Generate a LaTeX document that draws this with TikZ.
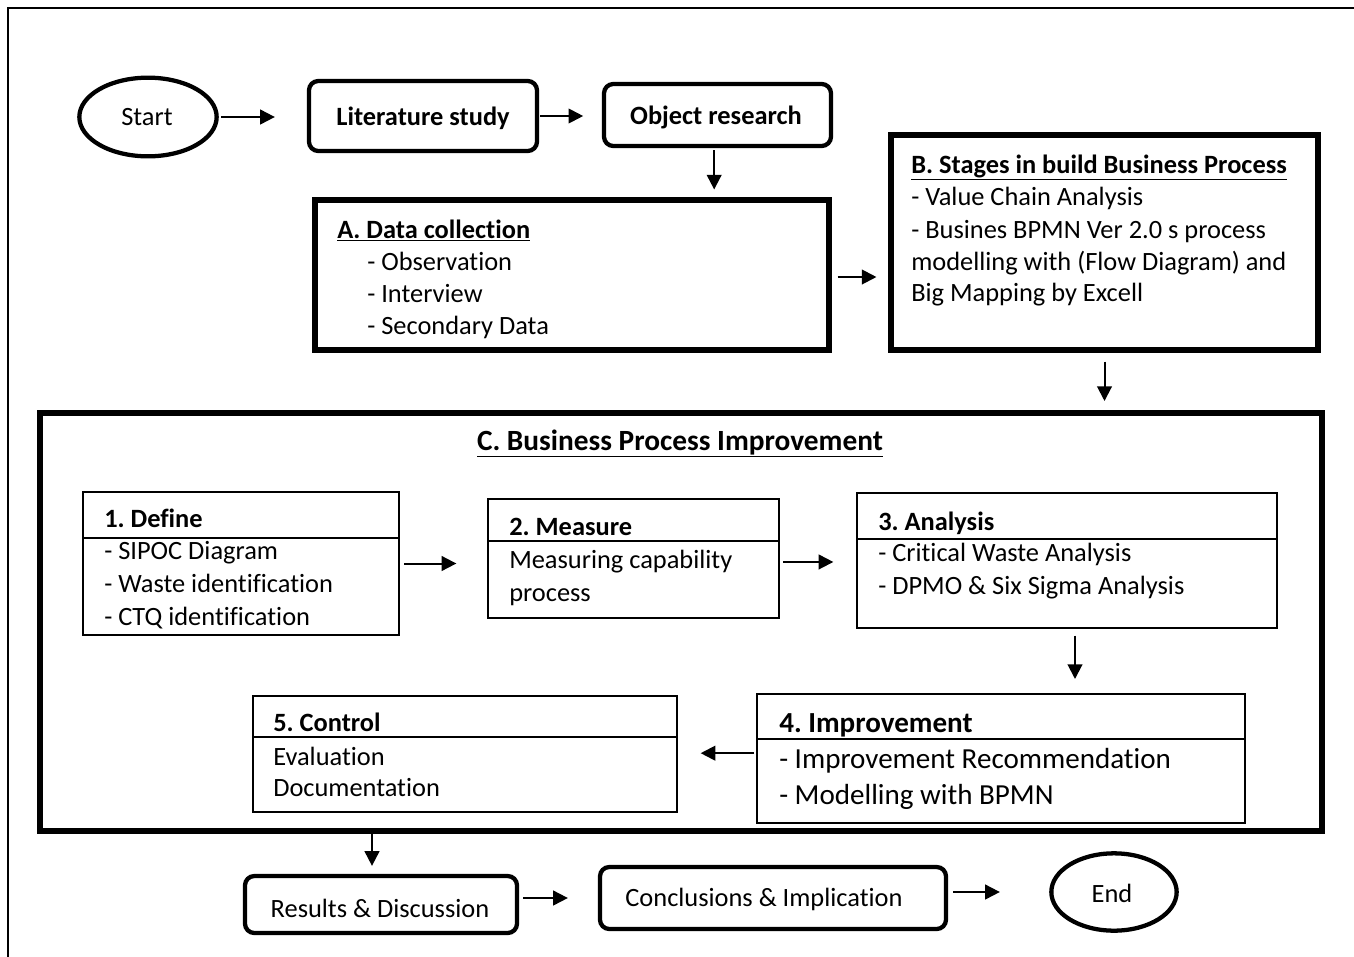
\documentclass[tikz,border=0pt]{standalone}
\usepackage{fontspec}
\setmainfont{Carlito}[RawFeature={-liga;-clig}]
\usetikzlibrary{shapes.geometric,fit,arrows.meta}
\frenchspacing
\begin{document}
\frenchspacing
\begin{tikzpicture}[x=0.75pt,y=-0.75pt,
  every node/.style={font=\fontsize{19.8}{24}\selectfont},
  big/.style={font=\fontsize{21.8}{26}\selectfont},
  rbox/.style={draw,line width=3.2pt,rounded corners=7pt,inner sep=0pt},
  tbox/.style={draw,line width=3.8pt,inner sep=0pt},
  cbox/.style={draw,line width=4.5pt,inner sep=0pt},
  sbox/.style={draw,line width=1.5pt,inner sep=0pt},
  oval/.style={draw,ellipse,line width=3.2pt,inner sep=0pt},
  txt/.style={anchor=base west,inner sep=0pt},
  ctxt/.style={anchor=base,inner sep=0pt},
  divider/.style={line width=1.5pt},
  arr/.style={-{Triangle[length=11pt,width=11pt]},line width=1.5pt},
  ]
\useasboundingbox (0,0) rectangle (1354,957);
\fill[white] (0,0) rectangle (1354,957);
% outer frame (only top and left visible)
\draw[line width=1.5pt] (1360,8) -- (8,8) -- (8,965);

% top row
\node[oval,minimum width=103pt,minimum height=59pt] (start) at (148,117) {};
\node[ctxt] (starttxt) at (147,125) {Start};
\node[rbox,fit={(309,81) (537,151)}] (lit) {};
\node[ctxt] (littxt) at (423,125) {\textbf{Literature study}};
\node[rbox,fit={(604,84) (831,146)}] (obj) {};
\node[ctxt] (objtxt) at (716,124) {\textbf{Object research}};

% A
\node[tbox,fit={(315,200) (829,350)}] (A) {};
\node[txt] (Atitle) at (337,238) {\underline{\textbf{A. Data collection}}};
\node[txt] (A1) at (367,270) {- Observation};
\node[txt] (A2) at (367,302) {- Interview};
\node[txt] (A3) at (367,334) {- Secondary Data};

% B
\node[tbox,fit={(891,135) (1318,350)}] (B) {};
\node[txt] (Btitle) at (911,173) {\underline{\textbf{B. Stages in build Business Process}}};
\node[txt] (B1) at (911,205) {- Value Chain Analysis};
\node[txt] (B2) at (911,238) {- Busines BPMN Ver 2.0 s process};
\node[txt] (B3) at (911,270) {modelling with (Flow Diagram) and};
\node[txt] (B4) at (911,301) {Big Mapping by Excell};

% C
\node[cbox,fit={(40,413) (1322,831)}] (C) {};
\node[ctxt,font=\fontsize{22}{26}\selectfont] (Ctitle) at (680,450) {\underline{\textbf{C. Business Process Improvement}}};

% 1 Define
\node[sbox,fit={(83,492) (399,635)}] (define) {};
\draw[divider] (83,538) -- (399,538);
\node[txt] (d0) at (104,527) {\textbf{1. Define}};
\node[txt] (d1) at (104,559) {- SIPOC Diagram};
\node[txt] (d2) at (104,592) {- Waste identification};
\node[txt] (d3) at (104,625) {- CTQ identification};

% 2 Measure
\node[sbox,fit={(488,499) (779,618)}] (measure) {};
\draw[divider] (488,541) -- (779,541);
\node[txt] (m0) at (509,535) {\textbf{2. Measure}};
\node[txt] (m1) at (509,568) {Measuring capability};
\node[txt] (m2) at (509,601) {process};

% 3 Analysis
\node[sbox,fit={(857,493) (1277,628)}] (analysis) {};
\draw[divider] (857,539) -- (1277,539);
\node[txt] (a0) at (878,530) {\textbf{3. Analysis}};
\node[txt] (a1) at (878,561) {- Critical Waste Analysis};
\node[txt] (a2) at (878,594) {- DPMO \& Six Sigma Analysis};

% 4 Improvement
\node[sbox,fit={(757,694) (1245,823)}] (improvement) {};
\draw[divider] (757,739) -- (1245,739);
\node[txt,big] (i0) at (779,732) {\textbf{4. Improvement}};
\node[txt,big] (i1) at (779,768) {- Improvement Recommendation};
\node[txt,big] (i2) at (779,804) {- Modelling with BPMN};

% 5 Control
\node[sbox,fit={(253,696) (677,812)}] (control) {};
\draw[divider] (253,737) -- (677,737);
\node[txt] (c0) at (273,731) {\textbf{5. Control}};
\node[txt] (c1) at (273,765) {Evaluation};
\node[txt] (c2) at (273,796) {Documentation};

% bottom row
\node[rbox,fit={(245,876) (517,933)}] (results) {};
\node[ctxt] (restxt) at (380,917) {Results \& Discussion};
\node[rbox,fit={(600,867) (946,929)}] (conclusions) {};
\node[ctxt] (contxt) at (764,906) {Conclusions \& Implication};
\node[oval,minimum width=94pt,minimum height=58pt] (end) at (1114,892) {};
\node[ctxt] (endtxt) at (1112,902) {End};

% connectors
\draw[arr,shorten <=2pt,shorten >=24pt] (start.east) -- (start.east -| lit.west);
\draw[arr,shorten <=1pt,shorten >=14pt] (lit.east) -- (lit.east -| obj.west);
\draw[arr,shorten <=1.5pt,shorten >=6pt] ([xshift=-2.5pt]obj.south) -- ([xshift=-2.5pt]obj.south |- A.north);
\draw[arr,shorten <=4.5pt,shorten >=9pt] ([yshift=-1.5pt]A.east) -- ([yshift=-1.5pt]A.east -| B.west);
\draw[arr,shorten <=6.75pt,shorten >=6.75pt] (B.south) -- (B.south |- C.north);
\draw[arr,shorten <=3pt,shorten >=23pt] (define.east) -- (define.east -| measure.west);
\draw[arr,shorten <=2.25pt,shorten >=17pt] ([yshift=-2.6pt]measure.east) -- ([yshift=-2.6pt]measure.east -| analysis.west);
\draw[arr,shorten <=5pt,shorten >=10.5pt] ([xshift=6pt]analysis.south) -- ([xshift=6pt]analysis.south |- improvement.north);
\draw[arr,shorten <=1.5pt,shorten >=17pt] ([yshift=4pt]improvement.west) -- ([yshift=4pt]improvement.west -| control.east);
\coordinate (cout) at (372,831);
\draw[arr,shorten <=2.25pt,shorten >=6pt] (cout) -- (cout |- results.north);
\draw[arr,shorten <=3pt,shorten >=22.5pt] (conclusions.west -| results.east) -- (conclusions.west);
\draw[arr,shorten <=3.75pt,shorten >=37pt] (conclusions.east |- end.west) -- (end.west);
\end{tikzpicture}
\end{document}
